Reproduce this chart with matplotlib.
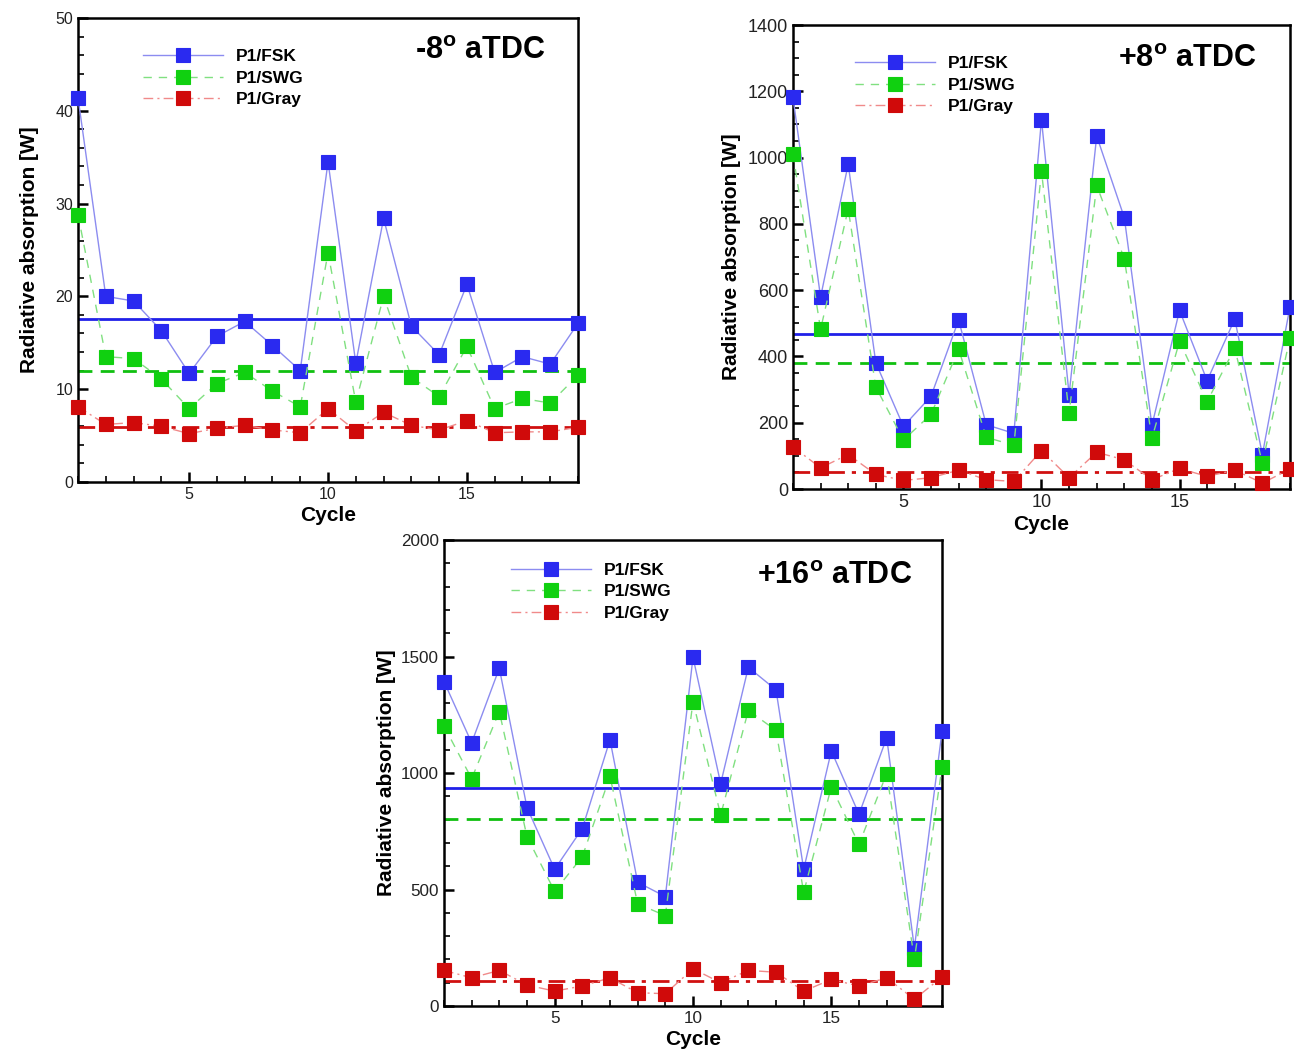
import matplotlib
matplotlib.use("Agg")
import matplotlib.pyplot as plt
from matplotlib.ticker import MultipleLocator

plt.rcParams['font.family'] = ['Liberation Sans', 'DejaVu Sans']
plt.rcParams['mathtext.fontset'] = 'custom'
plt.rcParams['mathtext.rm'] = 'Liberation Sans'
plt.rcParams['mathtext.bf'] = 'Liberation Sans:bold'

cycles = list(range(1, 20))
series_labels = ["P1/FSK", "P1/SWG", "P1/Gray"]

# Panel -8 aTDC
m8_fsk = [41.4, 20.0, 19.5, 16.3, 11.7, 15.7, 17.3, 14.7, 12.0, 34.5, 12.8, 28.4, 16.8, 13.7, 21.3, 11.8, 13.5, 12.7, 17.1]
m8_swg = [28.8, 13.5, 13.3, 11.1, 7.9, 10.6, 11.8, 9.8, 8.1, 24.7, 8.6, 20.0, 11.3, 9.2, 14.6, 7.9, 9.0, 8.5, 11.5]
m8_gray = [8.1, 6.2, 6.4, 6.0, 5.2, 5.8, 6.1, 5.6, 5.3, 7.9, 5.5, 7.5, 6.1, 5.6, 6.6, 5.3, 5.4, 5.4, 5.9]
m8_means = [17.6, 12.0, 5.9]

# Panel +8 aTDC
p8_fsk = [1182, 579, 980, 381, 189, 280, 510, 194, 168, 1115, 285, 1065, 819, 192, 539, 327, 513, 104, 550]
p8_swg = [1011, 482, 845, 308, 148, 225, 422, 156, 132, 959, 228, 916, 695, 153, 446, 264, 425, 78, 456]
p8_gray = [127, 64, 104, 44, 26, 34, 57, 28, 23, 116, 34, 111, 88, 28, 62, 38, 57, 18, 60]
p8_means = [469, 379, 52]

# Panel +16 aTDC
p16_fsk = [1393, 1130, 1450, 852, 587, 762, 1143, 531, 470, 1497, 955, 1454, 1357, 587, 1095, 823, 1152, 249, 1180]
p16_swg = [1202, 976, 1264, 727, 492, 641, 986, 439, 388, 1307, 820, 1269, 1183, 488, 941, 694, 998, 200, 1026]
p16_gray = [153, 121, 153, 90, 64, 86, 121, 57, 53, 160, 100, 153, 145, 64, 114, 86, 121, 29, 125]
p16_means = [934, 801, 107]

marker_colors = ["#2a2af0", "#10d010", "#d00a0a"]
line_colors = ["#8c8cf0", "#80e080", "#f08a8a"]
mean_colors = ["#2020e8", "#10c010", "#d01010"]
styles = ["-", (0, (6, 5)), (0, (7, 3, 1.5, 3))]
mean_styles = ["-", (0, (5, 3)), (0, (6, 2.5, 1.5, 2.5))]

fig = plt.figure(figsize=(12.94, 10.53), dpi=100)

panels = [
    ([0.0603, 0.5423, 0.3864, 0.4406], "-8", (m8_fsk, m8_swg, m8_gray), m8_means, 50, 10, 2,
     (0.13, 0.933), (0.936, 0.929), 11.5, 12),
    ([0.6128, 0.5356, 0.3841, 0.4406], "+8", (p8_fsk, p8_swg, p8_gray), p8_means, 1400, 200, 50,
     (0.125, 0.933), (0.932, 0.926), 13, 5),
    ([0.3431, 0.0446, 0.3849, 0.4425], "+16", (p16_fsk, p16_swg, p16_gray), p16_means, 2000, 500, 100,
     (0.135, 0.952), (0.94, 0.922), 12.3, 4),
]

for rect, ttl, data, means, ymax, major, minor, legpos, tpos, tsize, lpad in panels:
    ax = fig.add_axes(rect)
    for i, vals in enumerate(data):
        ax.plot(cycles, vals, color=line_colors[i], linestyle=styles[i], linewidth=1.0,
                marker="s", markersize=9.5, markerfacecolor=marker_colors[i],
                markeredgecolor=marker_colors[i], markeredgewidth=0.8,
                clip_on=False, zorder=3, label=series_labels[i])
        ax.axhline(means[i], color=mean_colors[i], linestyle=mean_styles[i], linewidth=2.0, zorder=2)
    ax.set_xlim(1, 19)
    ax.set_ylim(0, ymax)
    ax.xaxis.set_major_locator(MultipleLocator(5))
    ax.xaxis.set_minor_locator(MultipleLocator(1))
    ax.yaxis.set_major_locator(MultipleLocator(major))
    ax.yaxis.set_minor_locator(MultipleLocator(minor))
    ax.tick_params(which="both", direction="in", top=False, right=False, labelsize=tsize,
                   labelcolor="#222222", width=1.2)
    ax.tick_params(which="major", length=7, width=1.8)
    ax.tick_params(which="minor", length=4)
    for sp in ax.spines.values():
        sp.set_linewidth(1.8)
    ax.set_xlabel("Cycle", fontsize=15, fontweight="bold", labelpad=3)
    ax.set_ylabel("Radiative absorption [W]", fontsize=15, fontweight="bold", labelpad=lpad)
    ax.legend(loc="upper left", bbox_to_anchor=legpos, frameon=False,
              prop={"weight": "bold", "size": 12.5}, handlelength=4.6, handletextpad=0.75,
              labelspacing=0.37, borderpad=0, borderaxespad=0)
    ax.text(tpos[0], tpos[1], ttl + r"$^{\mathbf{o}}$ aTDC", transform=ax.transAxes,
            ha="right", va="center", fontsize=22, fontweight="bold")

fig.savefig("out.png", dpi=100)
